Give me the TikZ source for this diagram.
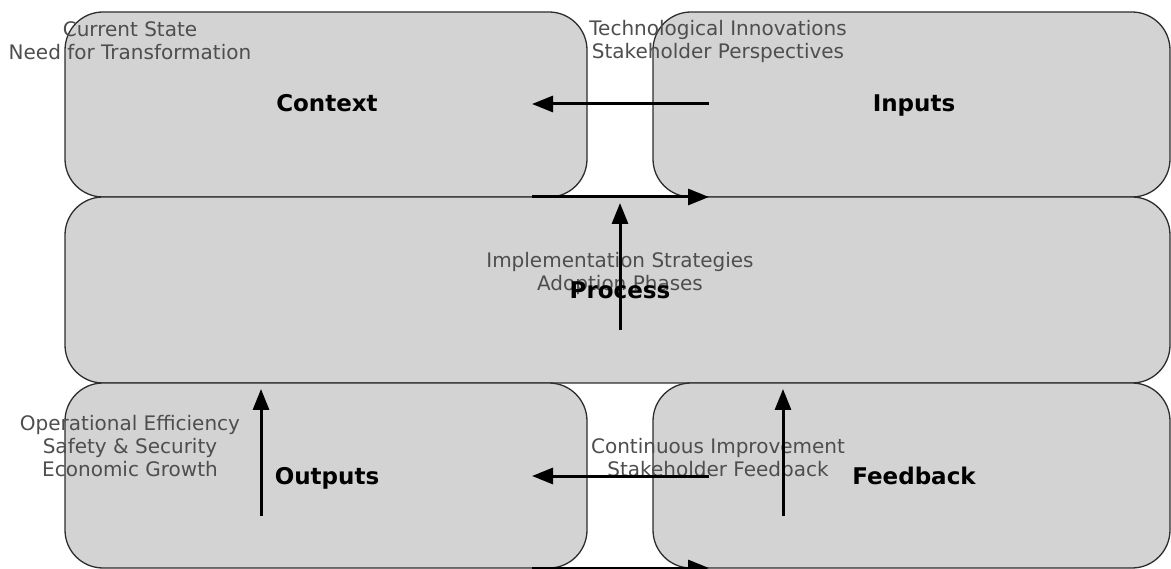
\documentclass[tikz,border=0pt]{standalone}
\usepackage{fontspec}
\setmainfont{DejaVu Sans}
\usetikzlibrary{arrows.meta}
\definecolor{boxfill}{RGB}{211,211,211}
\definecolor{boxedge}{RGB}{45,45,45}
\definecolor{txtgray}{RGB}{78,78,78}
\tikzset{
  panel/.style={draw=boxedge, line width=1.3pt, fill=boxfill, rounded corners=38pt, inner sep=0pt, outer sep=0pt},
  graytxt/.style={text=txtgray, align=center, inner sep=0pt, font=\fontsize{20}{23}\selectfont},
  boldlbl/.style={text=black, inner sep=0pt, text height=17pt, text depth=0pt, font=\fontsize{23}{27}\selectfont\bfseries},
  arr/.style={line width=3pt, -{Triangle[length=21pt,width=16pt]}}
}
\begin{document}
\begin{tikzpicture}[x=1pt,y=-1pt]
\useasboundingbox (0,0) rectangle (1171,569);
\clip (0,0) rectangle (1171,569);
\fill[white] (0,0) rectangle (1171,569);
% boxes
\node[panel, minimum width=522pt, minimum height=185pt] (ctx) at (326,104.5) {};
\node[panel, minimum width=517pt, minimum height=185pt] (inp) at (911.5,104.5) {};
\node[panel, minimum width=1105pt, minimum height=186pt] (proc) at (617.5,290) {};
\node[panel, minimum width=522pt, minimum height=185pt] (out) at (326,475.5) {};
\node[panel, minimum width=517pt, minimum height=185pt] (fb) at (911.5,475.5) {};
% gray detail texts
\node[graytxt] (ctxd) at (130,40.5) {Current State\\Need for Transformation};
\node[graytxt] (inpd) at (718,41) {Technological Innovations\\Stakeholder Perspectives};
\node[graytxt] (procd) at (620,273.5) {Implementation Strategies\\Adoption Phases};
\node[graytxt] (outd) at (130,446) {Operational Efficiency\\Safety \& Security\\Economic Growth};
\node[graytxt] (fbd) at (718,457.5) {Continuous Improvement\\Stakeholder Feedback};
% bold labels
\node[boldlbl] (ctxl) at (327,103.5) {Context};
\node[boldlbl] (inpl) at (914,103.5) {Inputs};
\node[boldlbl] (procl) at (620,290.5) {Process};
\node[boldlbl] (outl) at (327,476) {Outputs};
\node[boldlbl] (fbl) at (914,476) {Feedback};
% arrow end points
\coordinate (inpA) at (709,104);
\coordinate (ctxA) at (532,104);
\coordinate (ctxB) at (532,197);
\coordinate (inpB) at (709,197);
\coordinate (procA) at (620,330);
\coordinate (procB) at (620,203);
\coordinate (outA) at (261,516);
\coordinate (outB) at (261,389);
\coordinate (fbA) at (783,516);
\coordinate (fbB) at (783,389);
\coordinate (fbC) at (709,476);
\coordinate (outC) at (532,476);
\coordinate (outD) at (532,568);
\coordinate (fbD) at (709,568);
% arrows
\draw[arr] (inpA) -- (ctxA);
\draw[arr] (ctxB) -- (inpB);
\draw[arr] (procA) -- (procB);
\draw[arr] (outA) -- (outB);
\draw[arr] (fbA) -- (fbB);
\draw[arr] (fbC) -- (outC);
\draw[arr] (outD) -- (fbD);
\end{tikzpicture}
\end{document}
